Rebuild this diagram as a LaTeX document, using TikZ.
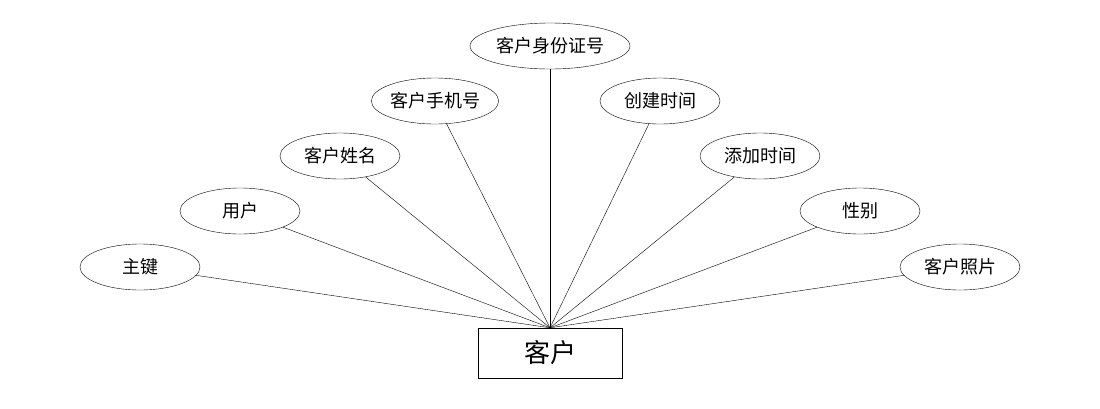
\documentclass[tikz,border=0pt]{standalone}
\usepackage{fontspec}
\setmainfont{Noto Sans CJK SC}
\usetikzlibrary{shapes.geometric}
\begin{document}
\begin{tikzpicture}[
		x=1pt, y=-1pt,
		attr/.style={ellipse,draw=black,inner sep=0pt,
		minimum width=120pt,minimum height=46pt,font=\fontsize{18}{20}\selectfont},
		entity/.style={rectangle,draw=black,minimum width=144pt,
		minimum height=50pt,font=\fontsize{26}{28}\selectfont}
		]
		\useasboundingbox (0,0) rectangle (1100,408);
		\node[entity] (kh) at (550,353) {客户};
		\node[attr] (zj) at (140,267) {主键};
		\node[attr] (yh) at (240,211) {用户};
		\node[attr] (xm) at (340,156) {客户姓名};
		\node[attr] (sj) at (435,101) {客户手机号};
		\node[attr, minimum width=160pt] (sfz) at (550,46) {客户身份证号};
		\node[attr] (cj) at (660,101) {创建时间};
		\node[attr] (tj) at (760,156) {添加时间};
		\node[attr] (xb) at (860,211) {性别};
		\node[attr] (zp) at (960,267) {客户照片};
		\foreach \a in {zj,yh,xm,sj,sfz,cj,tj,xb,zp}
			\draw (kh.north) -- (\a);
	\end{tikzpicture}
\end{document}
